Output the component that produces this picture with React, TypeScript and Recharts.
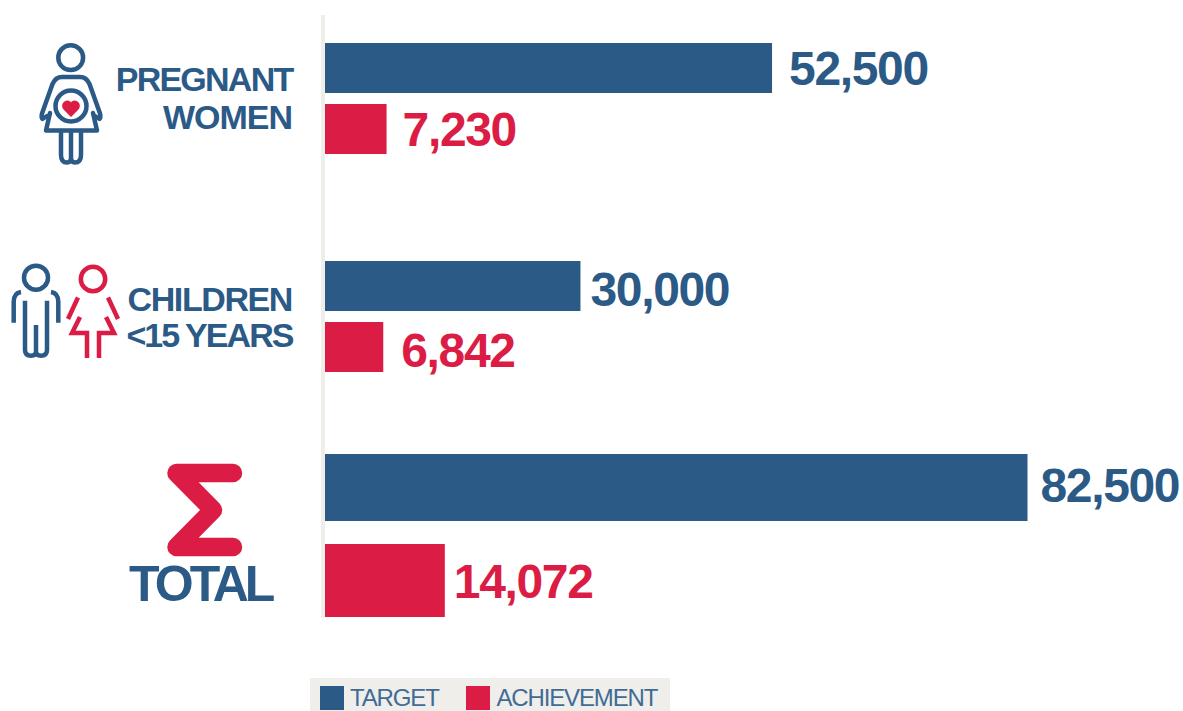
import React from "react";
import { BarChart, Bar, XAxis, YAxis, LabelList } from "recharts";

const categories = ["Pregnant women", "Children <15 years", "Total"];
const targetValues = [52500, 30000, 82500];
const achievementValues = [7230, 6842, 14072];
const seriesNames = ["TARGET", "ACHIEVEMENT"];

const BLUE = "#2b5a87";
const RED = "#db1d45";
const PANEL = "#efeeea";
const FONT = "'Liberation Sans', Arial, sans-serif";

const W = 1183;
const H = 711;
const PLOT_LEFT = 325;
const PLOT_RIGHT = 1027.5;
const AXIS_MAX = 82500;
const PAD = 14;

// layout per category: [target bar, achievement bar]
const rowLayout = [
  [{ top: 43, size: 50, gap: 17, dy: 0 }, { top: 104, size: 50, gap: 16, dy: 0 }],
  [{ top: 261, size: 50, gap: 10, dy: 3 }, { top: 322, size: 50, gap: 18, dy: 3 }],
  [{ top: 454, size: 67, gap: 13, dy: -3 }, { top: 544, size: 73, gap: 9, dy: 0 }],
];

function SingleBar({ name, value, color, top, size, gap, dy }: any) {
  const data = [{ name, value }];
  return (
    <div style={{ position: "absolute", left: 0, top: top - PAD, width: W, height: size + 2 * PAD }}>
      <BarChart
        width={W}
        height={size + 2 * PAD}
        data={data}
        layout="vertical"
        barCategoryGap="0%"
        margin={{ top: PAD - 2, bottom: PAD - 2, left: PLOT_LEFT, right: W - PLOT_RIGHT }}
      >
        <XAxis type="number" hide domain={[0, AXIS_MAX]} />
        <YAxis type="category" dataKey="name" hide />
        <Bar dataKey="value" fill={color} barSize={size} isAnimationActive={false}>
          <LabelList
            dataKey="value"
            content={(p: any) => (
              <text
                x={p.x + p.width + gap}
                y={p.y + p.height / 2 + dy + 17}
                fill={color}
                fontFamily={FONT}
                fontWeight={700}
                fontSize={48}
                letterSpacing={-1.35}
              >
                {Number(p.value).toLocaleString("en-US")}
              </text>
            )}
          />
        </Bar>
      </BarChart>
    </div>
  );
}

function Decor() {
  const label = { fontFamily: FONT, fontWeight: 700, fill: BLUE } as const;
  const blueLine = { fill: "none", stroke: BLUE, strokeWidth: 4.5, strokeLinecap: "round", strokeLinejoin: "round" } as const;
  const redLine = { fill: "none", stroke: RED, strokeWidth: 4.5, strokeLinecap: "butt", strokeLinejoin: "miter" } as const;
  return (
    <svg width={W} height={H} style={{ position: "absolute", left: 0, top: 0 }}>
      <rect x={321} y={15} width={4} height={603} fill={PANEL} />

      {/* pregnant woman icon */}
      <g {...blueLine}>
        <circle cx={70.7} cy={57.7} r={12.4} />
        <path d="M47 116 L42.5 119 Q41 117 42 113.5 L52.5 84 Q55.5 77 62 77 L80 77 Q86.5 77 89.5 84 L100 113.5 Q101 117 99.5 119 L95 116" />
        <path d="M50 113 L46 130.5 L97 130.5 L93 113" />
        <circle cx={71} cy={106} r={15.5} />
        <path d="M61 131 L61 155 Q61 162.5 67 162.5 Q71 162.5 71 158 L71 131 M81 131 L81 155 Q81 162.5 75 162.5 Q71 162.5 71 158" />
      </g>
      <path d="M71 117 L64 110 C60 106 63 100.5 67.5 100.5 C69.5 100.5 70.5 101.5 71 102.5 C71.5 101.5 72.5 100.5 74.5 100.5 C79 100.5 82 106 78 110 Z" fill={RED} />

      {/* boy icon */}
      <g {...blueLine} strokeLinecap="butt">
        <circle cx={36} cy={277.7} r={12} />
        <path d="M13.7 322.7 L13.7 302 Q13.7 293 21 292" />
        <path d="M58.3 322.7 L58.3 302 Q58.3 293 51 292" />
        <path d="M25 300.7 L25 350 Q25 355.7 31 355.7 Q36 355.7 36 352 L36 325" />
        <path d="M47 300.7 L47 350 Q47 355.7 41 355.7 Q36 355.7 36 352" />
      </g>

      {/* girl icon */}
      <g {...redLine}>
        <circle cx={93} cy={279} r={12.2} />
        <path d="M78 297.5 L68 319" />
        <path d="M108 297.5 L118 319" />
        <path d="M80 317 L72 333 L87 333 L87 358" />
        <path d="M106 317 L114 333 L99 333 L99 358" />
      </g>

      {/* sigma */}
      <path
        d="M176.5 473 L233 473 M176.5 473 L213 510 L176.5 547 L233 547"
        fill="none"
        stroke={RED}
        strokeWidth={18.5}
        strokeLinecap="round"
        strokeLinejoin="round"
      />

      <g {...label} textAnchor="end">
        <text x={292.5} y={91} fontSize={34} letterSpacing={-1.75}>PREGNANT</text>
        <text x={292} y={129} fontSize={34} letterSpacing={-1}>WOMEN</text>
        <text x={292} y={311} fontSize={34} letterSpacing={-1.4}>CHILDREN</text>
        <text x={292.5} y={347} fontSize={34} letterSpacing={-1.95}>{"<15 YEARS"}</text>
      </g>
      <text {...label} x={129} y={601} fontSize={50} letterSpacing={-3.9}>TOTAL</text>

      {/* legend */}
      <rect x={310} y={678} width={360} height={33} fill={PANEL} />
      <rect x={320} y={686} width={24} height={24} fill={BLUE} />
      <rect x={466} y={686} width={24} height={24} fill={RED} />
      <g fontFamily={FONT} fontSize={24} fill="#3f6c97" letterSpacing={-1.15}>
        <text x={350} y={705.5}>{seriesNames[0]}</text>
        <text x={496.5} y={705.5}>{seriesNames[1]}</text>
      </g>
    </svg>
  );
}

export default function App() {
  return (
    <div style={{ position: "absolute", left: 0, top: 0, width: W, height: H, overflow: "hidden", background: "#fff" }}>
      <Decor />
      {categories.map((c, i) => (
        <React.Fragment key={c}>
          <SingleBar name={c} value={targetValues[i]} color={BLUE} {...rowLayout[i][0]} />
          <SingleBar name={c} value={achievementValues[i]} color={RED} {...rowLayout[i][1]} />
        </React.Fragment>
      ))}
    </div>
  );
}
